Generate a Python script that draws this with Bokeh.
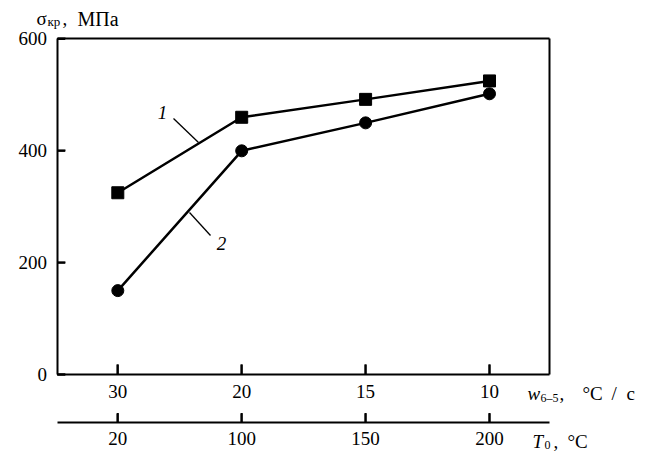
from bokeh.plotting import figure
from bokeh.models import LinearAxis, FixedTicker, Range1d, Label
from bokeh.embed import file_html
from bokeh.resources import INLINE
from bokeh.core.properties import value

# ---- data ----
x_pos = [0, 1, 2, 3]
rate_labels = ["30", "20", "15", "10"]        # w6-5, °C/с
temp_labels = ["20", "100", "150", "200"]     # T0, °C
sigma_1 = [325, 460, 492, 525]                # curve 1 (squares)
sigma_2 = [150, 400, 450, 502]                # curve 2 (circles)
y_ticks = [0, 200, 400, 600]
tag_text = ["1", "2"]

# ---- layout (pixels in the picture) ----
W, H = 648, 452
PX_X0, PX_PER_X = 117.3, 123.9      # pixel of x index 0, pixels per index step
PX_Y0, PX_PER_Y = 374.0, 0.5592     # pixel of 0 MPa, pixels per MPa
BASE_FIX = -5                       # correction for rendered text baseline

def dx(px):
    return (px - PX_X0) / PX_PER_X

def dy(py):
    return (PX_Y0 - py) / PX_PER_Y

BOX_L, BOX_R = dx(56.5), dx(549.0)
AX2_Y = dy(421.5)

FONT = "Liberation Serif"
FS = "19px"

p = figure(width=W, height=H, min_border=0,
           x_range=Range1d(dx(0), dx(W)), y_range=Range1d(dy(H), dy(0)),
           x_axis_location=None, y_axis_location=None,
           output_backend="svg", toolbar_location=None)
p.grid.grid_line_color = None
p.outline_line_color = None
p.background_fill_color = "white"
p.border_fill_color = "white"

def style(ax, standoff, tick_in=0, labels=True):
    ax.major_tick_in = tick_in
    ax.major_tick_out = 0
    ax.major_tick_line_color = "black" if tick_in else None
    ax.major_tick_line_width = 2
    ax.minor_tick_line_color = None
    ax.axis_line_width = 2
    ax.axis_line_color = "black"
    ax.major_label_standoff = standoff
    ax.major_label_text_font = FONT
    ax.major_label_text_font_size = FS if labels else "0px"
    ax.major_label_text_color = "black"

# left axis (σ)
ya = LinearAxis(ticker=FixedTicker(ticks=y_ticks), fixed_location=BOX_L, bounds=(0, 600))
style(ya, 10, tick_in=8)
p.add_layout(ya, "left")

# right box edge
yr = LinearAxis(ticker=FixedTicker(ticks=[]), fixed_location=BOX_R, bounds=(0, 600))
style(yr, 0, labels=False)
p.add_layout(yr, "right")

# top box edge
xt = LinearAxis(ticker=FixedTicker(ticks=[]), fixed_location=600, bounds=(BOX_L, BOX_R))
style(xt, 0, labels=False)
p.add_layout(xt, "above")

# bottom axis 1: cooling rate
xa1 = LinearAxis(ticker=FixedTicker(ticks=x_pos), fixed_location=0, bounds=(BOX_L, BOX_R),
                 major_label_overrides={x: s for x, s in zip(x_pos, rate_labels)})
style(xa1, 10, tick_in=10)
p.add_layout(xa1, "below")

# bottom axis 2: temperature
xa2 = LinearAxis(ticker=FixedTicker(ticks=x_pos), fixed_location=AX2_Y, bounds=(BOX_L, BOX_R),
                 major_label_overrides={x: s for x, s in zip(x_pos, temp_labels)})
style(xa2, 10, tick_in=9)
p.add_layout(xa2, "below")

# inward tick marks also drawn as segments at the axes' tick values
n_x = len(x_pos)
n_y = len(y_ticks)
tick_x0 = list(x_pos)
tick_x1 = list(x_pos)
p.segment(x0=tick_x0, y0=[0.0] * n_x, x1=tick_x1, y1=[10 / PX_PER_Y] * n_x,
          line_color="black", line_width=2, level="overlay")
p.segment(x0=tick_x0, y0=[AX2_Y] * n_x, x1=tick_x1, y1=[AX2_Y + 9 / PX_PER_Y] * n_x,
          line_color="black", line_width=2, level="overlay")
p.segment(x0=[BOX_L] * n_y, y0=list(y_ticks), x1=[BOX_L + 8 / PX_PER_X] * n_y, y1=list(y_ticks),
          line_color="black", line_width=2, level="overlay")

# ---- curves ----
p.line(x_pos, sigma_1, line_color="black", line_width=2.5)
p.scatter(x_pos, sigma_1, marker="square", size=12, fill_color="black", line_color="black")
p.line(x_pos, sigma_2, line_color="black", line_width=2.5)
p.scatter(x_pos, sigma_2, marker="circle", size=12, fill_color="black", line_color="black")

# leaders and tags
p.segment([dx(173), dx(189)], [dy(118), dy(212)], [dx(198), dx(210)], [dy(142), dy(235)],
          line_color="black", line_width=1.3)
p.text([dx(162), dx(221)], [dy(112), dy(243)], text=tag_text, text_font=value(FONT),
       text_font_style="italic", text_font_size="19px", text_align="center",
       text_baseline="middle", text_color="black")

# ---- axis titles ----
def lbl(px, py, text, size, style_="normal"):
    p.add_layout(Label(x=dx(px), y=dy(py + BASE_FIX), text=text,
                       text_font=FONT, text_font_size=size, text_font_style=style_,
                       text_color="black", text_baseline="alphabetic", text_align="left"))

# σкр, МПа
lbl(36, 23, "σ", "19px")
lbl(47, 26, "кр", "13px")
lbl(62, 23, ",", "19px")
lbl(77, 23, "МПа", "20px")

# w6-5, °C/с
lbl(527, 398, "w", "19px", "italic")
lbl(540, 402, "6–5", "12px")
lbl(559, 398, ",", "19px")
lbl(582, 398, "°C", "19px")
lbl(611, 398, "/", "19px")
lbl(626, 398, "с", "19px")

# T0, °C
lbl(532, 446, "T", "19px", "italic")
lbl(544, 449, "0", "12px")
lbl(553, 446, ",", "19px")
lbl(567, 446, "°C", "19px")

open("out.html", "w").write(file_html(p, INLINE))
